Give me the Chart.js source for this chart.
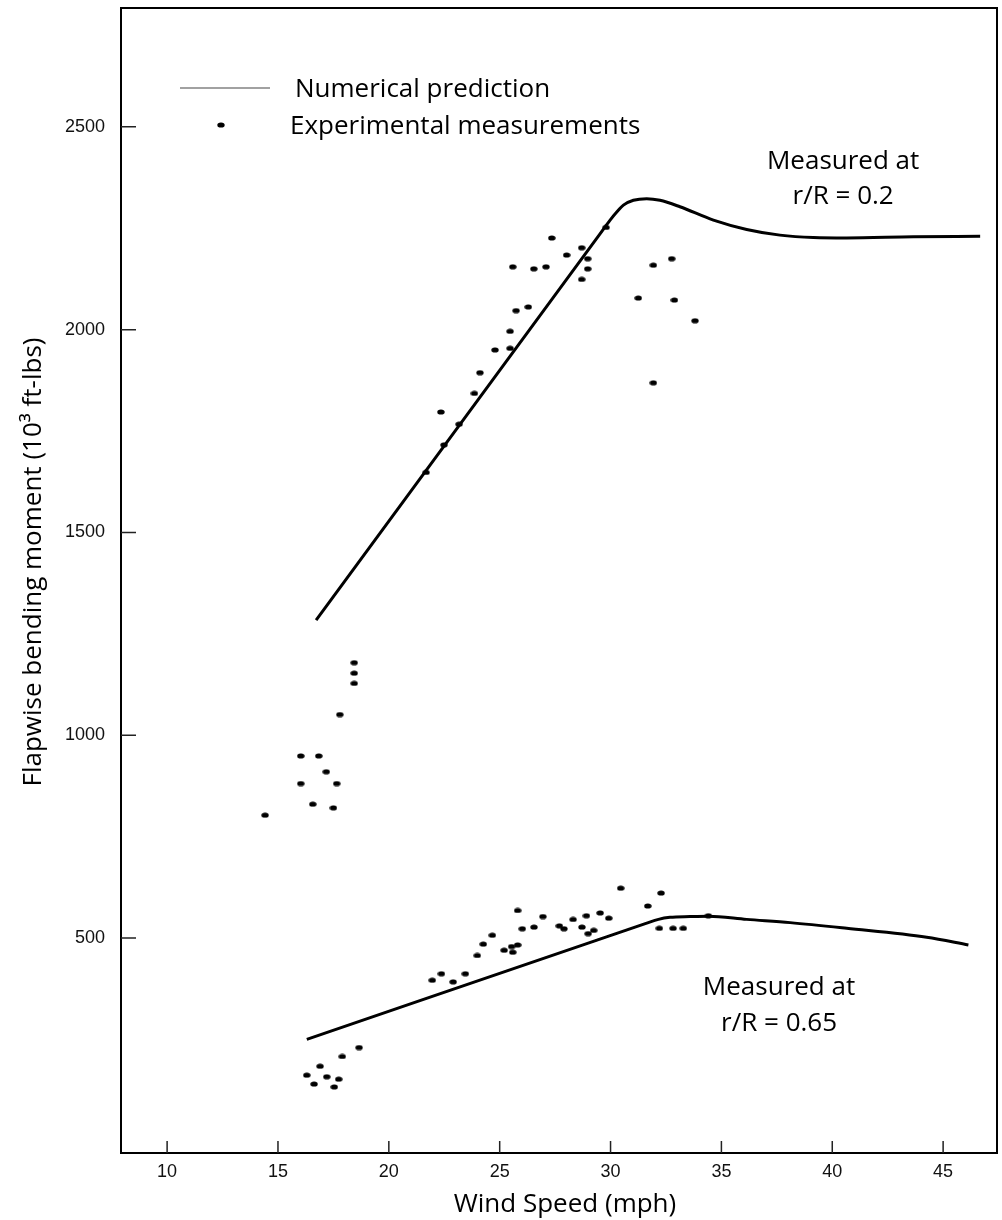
<!DOCTYPE html>
<html>
<head>
<meta charset="utf-8">
<title>Flapwise bending moment vs wind speed</title>
<script src="https://cdn.jsdelivr.net/npm/chart.js@4.4.1/dist/chart.umd.min.js"></script>
<style>
  html, body { margin: 0; padding: 0; background: #fff; }
</style>
</head>
<body>
<canvas id="chart" width="1002" height="1220"></canvas>
<script>
// axis ticks
const xTicks = [10, 15, 20, 25, 30, 35, 40, 45];
const yTicks = [500, 1000, 1500, 2000, 2500];

// numerical prediction, r/R = 0.2
const predHighX = [16.72, 29.5, 29.98, 30.28, 30.58, 31.03, 31.63, 32.23, 33.13, 34.64, 36.14, 37.64, 39.15, 40.65, 43.66, 46.67];
const predHighY = [1284, 2234, 2270, 2290, 2307, 2319, 2323, 2319, 2303, 2270, 2247, 2233, 2227, 2226, 2229, 2230];

// numerical prediction, r/R = 0.65
const predLowX = [16.30, 31.6, 32.16, 32.68, 33.59, 34.41, 36.14, 38.10, 40.65, 44.26, 46.14];
const predLowY = [250, 536, 546, 551, 553, 554, 546, 538, 524, 502, 483];

// experimental measurements, r/R = 0.2
const measHighX = [14.42, 16.03, 16.03, 16.57, 16.84, 17.18, 17.50, 17.65, 17.79, 18.44, 18.44, 18.44,
    21.68, 22.35, 22.49, 23.17, 23.86, 24.11, 24.79, 25.47, 25.47, 25.59, 25.74, 26.29, 26.54, 27.09,
    27.35, 28.02, 28.70, 28.70, 28.97, 28.97, 29.80, 31.25, 31.93, 31.93, 32.76, 32.88, 33.81];
const measHighY = [803, 949, 881, 830, 949, 910, 821, 881, 1051, 1179, 1153, 1128,
    1648, 1797, 1716, 1767, 1843, 1894, 1950, 1996, 1954, 2155, 2047, 2056, 2150, 2155,
    2226, 2184, 2202, 2124, 2175, 2150, 2252, 2078, 2159, 1869, 2175, 2073, 2022];

// experimental measurements, r/R = 0.65
const measLowX = [16.30, 16.63, 16.90, 17.20, 17.54, 17.74, 17.90, 18.66, 21.96, 22.37, 22.90, 23.45,
    23.99, 24.26, 24.67, 25.20, 25.54, 25.59, 25.81, 25.81, 26.02, 26.55, 26.95, 27.69, 27.90, 28.31,
    28.71, 28.91, 28.99, 29.24, 29.53, 29.92, 30.46, 31.68, 32.28, 32.20, 32.82, 33.28, 34.41];
const measLowY = [162, 140, 184, 158, 133, 152, 208, 230, 396, 412, 392, 412,
    457, 485, 507, 470, 479, 465, 483, 568, 523, 527, 553, 530, 523, 546,
    527, 555, 511, 519, 562, 549, 623, 579, 611, 524, 524, 524, 555];

const TEXT_FONT = '26px "Open Sans"';
const TICK_FONT = { family: 'Liberation Sans', size: 18 };

function toXY(xs, ys) {
    return xs.map((x, i) => ({ x: x, y: ys[i] }));
}

// small flattened dot like the printed markers
function makeDot() {
    const c = document.createElement('canvas');
    c.width = 8;
    c.height = 6;
    const g = c.getContext('2d');
    g.fillStyle = '#000';
    g.beginPath();
    g.ellipse(4, 3, 3.7, 2.6, 0, 0, Math.PI * 2);
    g.fill();
    return c;
}
const dot = makeDot();

// frame, inward ticks, legend, titles and labels
const decorations = {
    id: 'decorations',
    afterDraw(chart) {
        const { ctx, chartArea: a, scales: { x, y } } = chart;
        ctx.save();

        ctx.strokeStyle = '#000';
        ctx.lineWidth = 2;
        ctx.strokeRect(a.left, a.top, a.right - a.left, a.bottom - a.top);

        ctx.lineWidth = 1.5;
        ctx.strokeStyle = '#222';
        ctx.beginPath();
        x.ticks.forEach(t => {
            const px = x.getPixelForValue(t.value);
            ctx.moveTo(px, a.bottom);
            ctx.lineTo(px, a.bottom - 12);
        });
        y.ticks.forEach(t => {
            const py = y.getPixelForValue(t.value);
            ctx.moveTo(a.left, py);
            ctx.lineTo(a.left + 15, py);
        });
        ctx.stroke();

        // legend
        ctx.strokeStyle = '#444';
        ctx.lineWidth = 1.2;
        ctx.beginPath();
        ctx.moveTo(a.left + 59, a.top + 80);
        ctx.lineTo(a.left + 149, a.top + 80);
        ctx.stroke();
        ctx.drawImage(dot, a.left + 100 - dot.width / 2, a.top + 117 - dot.height / 2);

        ctx.fillStyle = '#000';
        ctx.font = TEXT_FONT;
        ctx.textBaseline = 'alphabetic';
        ctx.textAlign = 'left';
        ctx.fillText('Numerical prediction', a.left + 174, a.top + 89);
        ctx.fillText('Experimental measurements', a.left + 169, a.top + 126);

        // curve labels
        ctx.textAlign = 'center';
        const label = (text, xv, yv) => ctx.fillText(text, x.getPixelForValue(xv), y.getPixelForValue(yv));
        label('Measured at', 40.49, 2396);
        label('r/R = 0.2', 40.49, 2309);
        label('Measured at', 37.60, 359);
        label('r/R = 0.65', 37.60, 271);

        // axis titles
        ctx.fillText('Wind Speed (mph)', 565, a.bottom + 59);
        ctx.translate(41, 562);
        ctx.rotate(-Math.PI / 2);
        ctx.fillText('Flapwise bending moment (10\u00B3 ft-lbs)', 0, 0);

        ctx.restore();
    }
};

new Chart(document.getElementById('chart'), {
    type: 'scatter',
    data: {
        datasets: [{
            label: 'Numerical prediction (r/R = 0.2)',
            data: toXY(predHighX, predHighY),
            showLine: true,
            borderColor: '#000',
            borderWidth: 3,
            pointRadius: 0,
            cubicInterpolationMode: 'monotone'
        }, {
            label: 'Numerical prediction (r/R = 0.65)',
            data: toXY(predLowX, predLowY),
            showLine: true,
            borderColor: '#000',
            borderWidth: 3,
            pointRadius: 0,
            cubicInterpolationMode: 'monotone'
        }, {
            label: 'Experimental measurements (r/R = 0.2)',
            data: toXY(measHighX, measHighY),
            pointStyle: dot,
            pointRadius: 3
        }, {
            label: 'Experimental measurements (r/R = 0.65)',
            data: toXY(measLowX, measLowY),
            pointStyle: dot,
            pointRadius: 3
        }]
    },
    options: {
        responsive: false,
        animation: false,
        devicePixelRatio: 1,
        layout: { padding: { top: 8, right: 5, left: 0, bottom: 0 } },
        plugins: {
            legend: { display: false },
            tooltip: { enabled: false }
        },
        scales: {
            x: {
                type: 'linear',
                min: 7.92,
                max: 47.43,
                afterBuildTicks: s => { s.ticks = xTicks.map(v => ({ value: v })); },
                afterFit: s => { s.height = 67; s.paddingLeft = 0; s.paddingRight = 0; },
                grid: { display: false, drawTicks: false },
                border: { display: false },
                ticks: { font: TICK_FONT, color: '#111', padding: 8, maxRotation: 0, autoSkip: false,
                    callback: v => String(v) }
            },
            y: {
                type: 'linear',
                min: -30,
                max: 2793,
                afterBuildTicks: s => { s.ticks = yTicks.map(v => ({ value: v })); },
                afterFit: s => { s.width = 121; s.paddingTop = 0; s.paddingBottom = 0; },
                grid: { display: false, drawTicks: false },
                border: { display: false },
                ticks: { font: TICK_FONT, color: '#111', padding: 16, callback: v => String(v) }
            }
        }
    },
    plugins: [decorations]
});
</script>
</body>
</html>
